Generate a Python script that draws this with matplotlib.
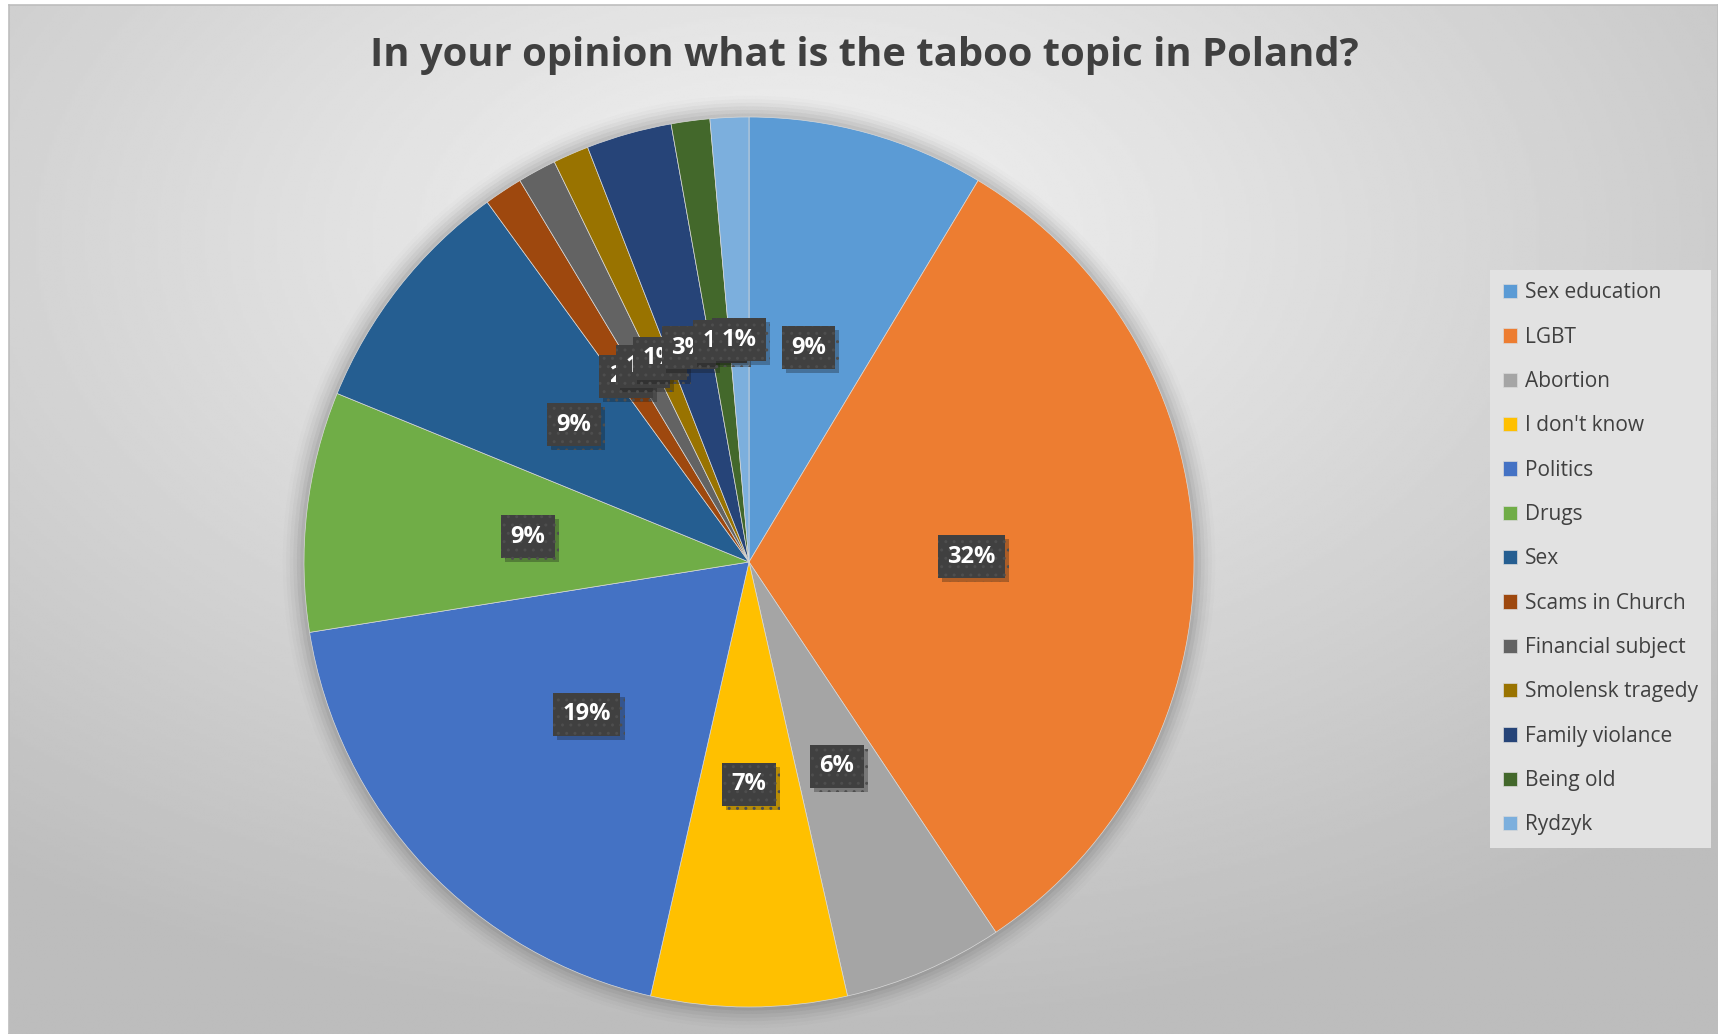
import matplotlib
matplotlib.use("Agg")
import matplotlib.pyplot as plt
import matplotlib.patheffects as pe
import numpy as np

plt.rcParams["font.family"] = ["Open Sans", "DejaVu Sans"]

topics = ["Sex education", "LGBT", "Abortion", "I don't know", "Politics", "Drugs", "Sex",
          "Scams in Church", "Financial subject", "Smolensk tragedy", "Family violance",
          "Being old", "Rydzyk"]
shares = [8.6, 32.0, 5.8, 7.1, 18.9, 8.7, 8.8, 1.4, 1.4, 1.3, 3.1, 1.4, 1.4]
pct_labels = ["9%", "32%", "6%", "7%", "19%", "9%", "9%", "2%", "1%", "1%", "3%", "1%", "1%"]
colors = ["#5B9BD5", "#ED7D31", "#A5A5A5", "#FFC000", "#4472C4", "#70AD47", "#255E91",
          "#9E480E", "#636363", "#997300", "#264478", "#43682B", "#7CAFDD"]
title = "In your opinion what is the taboo topic in Poland?"

W, H = 1718, 1034
fig = plt.figure(figsize=(W / 100, H / 100), dpi=100)
fig.patch.set_facecolor("white")

# radial grey background
bg = fig.add_axes([0.005, 0.0, 0.995, 0.995], zorder=-5)
yy, xx = np.mgrid[0:400, 0:660]
cx, cy = 300, 90
d = np.hypot((xx - cx) / 660.0, (yy - cy) / 400.0)
shade = np.clip(0.955 - 0.28 * d, 0.74, 0.96)
bg.imshow(shade, cmap="gray", vmin=0, vmax=1, aspect="auto", interpolation="bilinear")
bg.set_xticks([]); bg.set_yticks([])
for s in bg.spines.values():
    s.set_color("#bdbdbd"); s.set_linewidth(1.2)

# pie
cx_px, cy_px, r_px = 749, 562, 445
ax = fig.add_axes([(cx_px - r_px) / W, (H - cy_px - r_px) / H, 2 * r_px / W, 2 * r_px / H])
# soft shadow ring
for k, a in enumerate(np.linspace(0.05, 0.01, 6)):
    ax.add_patch(plt.Circle((0, 0), 1.0 + 0.008 * (k + 1), color="black", alpha=a, lw=0,
                            zorder=0, clip_on=False))

lab_iter = iter(pct_labels)
wedges, _, autotexts = ax.pie(shares, colors=colors, startangle=90, counterclock=False,
                              autopct=lambda p: next(lab_iter), pctdistance=0.5,
                              wedgeprops=dict(edgecolor="#d9d9d9", linewidth=0.5),
                              textprops=dict(color="white", fontsize=17, fontweight="bold"))
for i, t in enumerate(autotexts):
    t.set_zorder(10 + i)
    t.set_bbox(dict(boxstyle="square,pad=0.4", facecolor="#404040", edgecolor="#4e4e4e",
                    linewidth=0, hatch=".."))
    t.get_bbox_patch().set_path_effects([pe.SimplePatchShadow(offset=(3, -3), alpha=0.3),
                                         pe.Normal()])
ax.set_xlim(-1, 1); ax.set_ylim(-1, 1)
ax.set_aspect("equal")
ax.axis("off")

fig.text(0.503, 0.946, title, ha="center", va="center", fontsize=28.8, fontweight="bold",
         color="#404040")

leg = fig.legend(wedges, topics, loc="upper left", bbox_to_anchor=(1490 / W, 1 - 270 / H),
                 fontsize=15, frameon=True, fancybox=False, handlelength=0.7,
                 handleheight=0.7, handletextpad=0.4, labelspacing=1.12, borderpad=0.6,
                 borderaxespad=0)
leg.get_frame().set_facecolor("#e2e2e2")
leg.get_frame().set_edgecolor("none")
leg.get_frame().set_alpha(1)
for txt in leg.get_texts():
    txt.set_color("#404040")

fig.savefig("out.png", dpi=100)
